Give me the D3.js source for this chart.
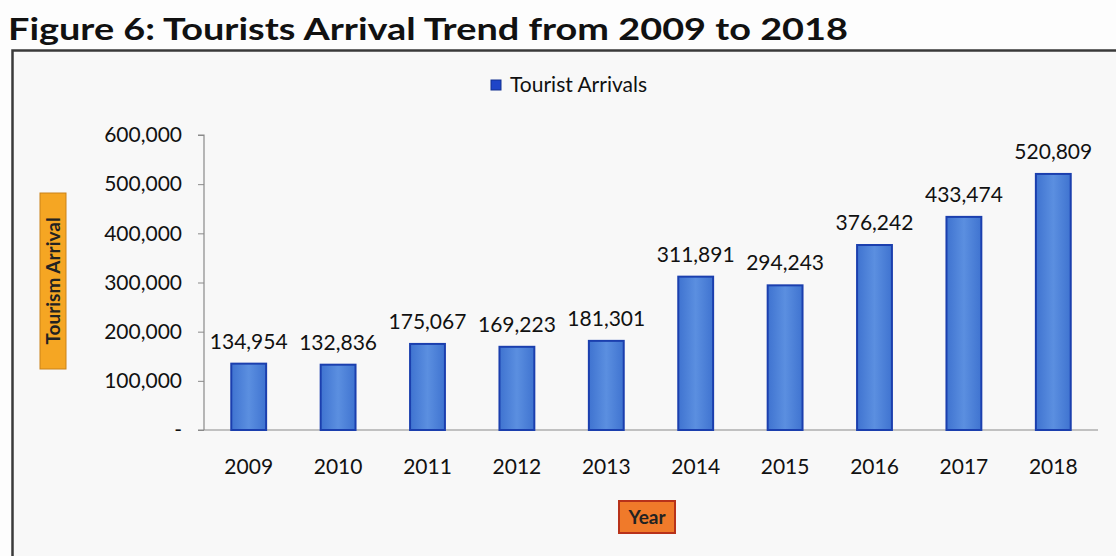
<!DOCTYPE html>
<html>
<head>
<meta charset="utf-8">
<script src="https://cdn.jsdelivr.net/npm/d3@7"></script>
<style>
  html, body { margin: 0; padding: 0; background: #ffffff; }
  svg { display: block; }
</style>
</head>
<body>
<svg id="chart" width="1116" height="556"></svg>
<script>
// Tourist arrivals by year
const years = ["2009", "2010", "2011", "2012", "2013", "2014", "2015", "2016", "2017", "2018"];
const arrivals = [134954, 132836, 175067, 169223, 181301, 311891, 294243, 376242, 433474, 520809];
const yTicks = [0, 100000, 200000, 300000, 400000, 500000, 600000];

const W = 1116, H = 556;
const font = "Lato, 'Open Sans', sans-serif";
const svg = d3.select("#chart");

// page background and chart frame
svg.append("rect").attr("width", W).attr("height", H).attr("fill", "#fdfdfd");
svg.append("rect")
  .attr("x", 12.5).attr("y", 50.5).attr("width", W + 20).attr("height", H)
  .attr("fill", "#f8f8f8").attr("stroke", "#3a3a3a").attr("stroke-width", 2.5);

// title
svg.append("text")
  .attr("x", 8).attr("y", 40)
  .attr("font-family", font).attr("font-weight", 700).attr("font-size", 30)
  .attr("fill", "#111")
  .attr("textLength", 840).attr("lengthAdjust", "spacingAndGlyphs")
  .text("Figure 6: Tourists Arrival Trend from 2009 to 2018");

const margin = { left: 204, right: 18, top: 135, bottom: 126 };
const x = d3.scaleBand().domain(years).range([margin.left, W - margin.right]).paddingInner(0.61).paddingOuter(0.305);
const y = d3.scaleLinear().domain([0, 600000]).range([H - margin.bottom, margin.top]);

// y axis
const yAxis = d3.axisLeft(y).tickValues(yTicks).tickSize(6).tickPadding(16)
  .tickFormat(d => d === 0 ? "-" : d3.format(",")(d));
const gy = svg.append("g").attr("transform", `translate(${margin.left},0)`).call(yAxis);
gy.select(".domain").attr("stroke", "#8a8a8a").attr("stroke-width", 1.2).attr("d", `M-6,${y(600000)}H0V${y(0)}`);
gy.selectAll(".tick line").attr("stroke", "#8a8a8a");
gy.selectAll(".tick text").attr("font-family", font).attr("font-size", 21).attr("fill", "#111");

// x axis
const xAxis = d3.axisBottom(x).tickSize(0).tickPadding(29);
const gx = svg.append("g").attr("transform", `translate(0,${y(0)})`).call(xAxis);
gx.select(".domain").attr("stroke", "#8a8a8a").attr("stroke-width", 1.2)
  .attr("d", `M${margin.left - 6},0H${W - margin.right}`);
gx.selectAll(".tick text").attr("font-family", font).attr("font-size", 21).attr("fill", "#111");

// bars
const grad = svg.append("defs").append("linearGradient").attr("id", "barFill")
  .attr("x1", 0).attr("x2", 1).attr("y1", 0).attr("y2", 0);
grad.append("stop").attr("offset", "0%").attr("stop-color", "#3f73d0");
grad.append("stop").attr("offset", "50%").attr("stop-color", "#5b8fe0");
grad.append("stop").attr("offset", "100%").attr("stop-color", "#3f73d0");

svg.append("g").selectAll("rect").data(arrivals).join("rect")
  .attr("x", (d, i) => x(years[i]))
  .attr("y", d => y(d))
  .attr("width", x.bandwidth())
  .attr("height", d => y(0) - y(d))
  .attr("fill", "url(#barFill)")
  .attr("stroke", "#1b3fae").attr("stroke-width", 2);

// value labels
svg.append("g").selectAll("text").data(arrivals).join("text")
  .attr("x", (d, i) => x(years[i]) + x.bandwidth() / 2)
  .attr("y", d => y(d) - 15)
  .attr("text-anchor", "middle")
  .attr("font-family", font).attr("font-size", 21).attr("fill", "#111")
  .text(d => d3.format(",")(d));

// legend
svg.append("rect").attr("x", 491).attr("y", 80).attr("width", 10).attr("height", 10)
  .attr("fill", "#1f45c8").attr("stroke", "#12308f").attr("stroke-width", 1);
svg.append("text").attr("x", 510).attr("y", 92)
  .attr("font-family", font).attr("font-size", 21).attr("fill", "#111")
  .text("Tourist Arrivals");

// y axis title
const yt = svg.append("g").attr("transform", "translate(53,281) rotate(-90)");
yt.append("rect").attr("x", -88).attr("y", -13).attr("width", 176).attr("height", 26)
  .attr("fill", "#f5a623").attr("stroke", "#c9821a").attr("stroke-width", 1);
yt.append("text").attr("y", 7).attr("text-anchor", "middle")
  .attr("font-family", font).attr("font-weight", 700).attr("font-size", 19).attr("fill", "#222")
  .text("Tourism Arrival");

// x axis title
const xt = svg.append("g").attr("transform", "translate(647,517)");
xt.append("rect").attr("x", -28).attr("y", -16).attr("width", 56).attr("height", 32)
  .attr("fill", "#f07a2a").attr("stroke", "#b8321a").attr("stroke-width", 2);
xt.append("text").attr("y", 7).attr("text-anchor", "middle")
  .attr("font-family", font).attr("font-weight", 700).attr("font-size", 19).attr("fill", "#222")
  .text("Year");
</script>
</body>
</html>
